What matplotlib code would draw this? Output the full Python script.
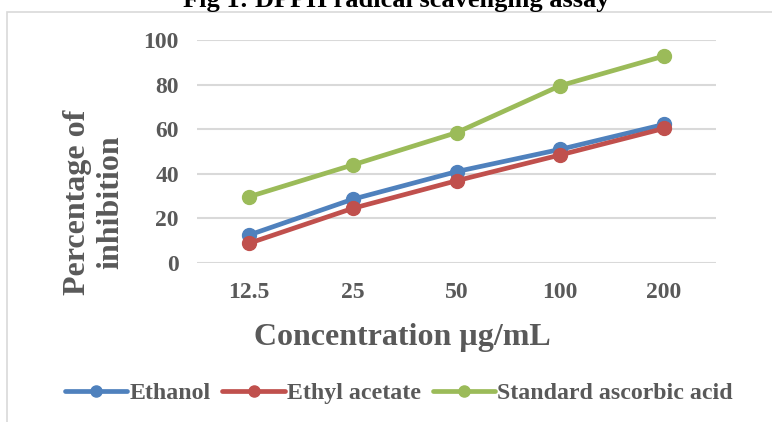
import matplotlib.pyplot as plt
from matplotlib.patches import Rectangle

# data
concentrations = ['12.5', '25', '50', '100', '200']
ethanol = [12.4, 28.5, 40.9, 50.9, 62.1]
ethyl_acetate = [8.7, 24.4, 36.8, 48.4, 60.3]
ascorbic_acid = [29.6, 43.9, 58.4, 79.5, 92.8]

plt.rcParams['font.family'] = ['Liberation Serif', 'DejaVu Serif']
plt.rcParams['font.weight'] = 'bold'
text_color = '#595959'

fig = plt.figure(figsize=(7.72, 4.22), dpi=100)

# outer chart border (runs past the right and bottom edges)
fig.patches.append(Rectangle((7 / 772, -0.1), 1.2, 1 - 12 / 422 + 0.1,
                             transform=fig.transFigure, fill=False,
                             edgecolor='#D9D9D9', linewidth=1.2))

ax = fig.add_axes([197 / 772, 1 - 262.7 / 422, (716 - 197) / 772, (262.7 - 40) / 422])
x = range(len(concentrations))

series = [(ethanol, 'Ethanol', '#4F81BD'),
          (ethyl_acetate, 'Ethyl acetate', '#C0504D'),
          (ascorbic_acid, 'Standard ascorbic acid', '#9BBB59')]
for vals, name, col in series:
    ax.plot(x, vals, color=col, linewidth=3.4, marker='o', markersize=10,
            label=name, solid_capstyle='round', zorder=3)

ax.set_xlim(-0.5, len(concentrations) - 0.5)
ax.set_ylim(0, 100)
ax.set_yticks(range(0, 101, 20))
ax.set_xticks(list(x))
ax.set_xticklabels(concentrations)
ax.grid(axis='y', color='#D9D9D9', linewidth=1.5)
ax.set_axisbelow(True)
for s in ax.spines.values():
    s.set_visible(False)
ax.tick_params(length=0, labelsize=17, colors=text_color, pad=13)
ax.tick_params(axis='x', pad=14)

# axis titles placed like the Excel original (x title sits left of plot centre)
fig.text(402 / 772, 1 - 337 / 422, 'Concentration µg/mL', fontsize=23,
         color=text_color, ha='center', va='center')
fig.text(94 / 772, 1 - 202 / 422, 'Percentage of\ninhibition', rotation=90,
         fontsize=23, color=text_color, ha='center', va='center',
         linespacing=1.18)

fig.text(396 / 772, 1 - 7 / 422, 'Fig 1: DPPH radical scavenging assay',
         fontsize=19, ha='center', va='baseline', color='black')

fig.legend(loc='center', bbox_to_anchor=(399 / 772, 1 - 393 / 422), ncol=3,
           frameon=False, fontsize=17.2, handlelength=2.6, handletextpad=0.1,
           columnspacing=0.5, labelcolor=text_color, markerscale=0.8)

fig.savefig('out.png', dpi=100)
